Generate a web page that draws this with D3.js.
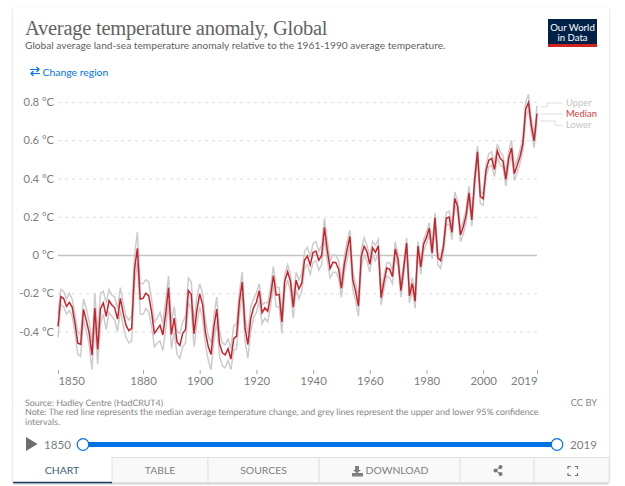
<!DOCTYPE html>
<html>
<head>
<meta charset="utf-8">
<script src="https://cdnjs.cloudflare.com/ajax/libs/d3/7.8.5/d3.min.js"></script>
<style>
body { margin: 0; background: #fff; }
svg { display: block; }
text { font-family: Lato, sans-serif; }
</style>
</head>
<body>
<div id="viz"></div>
<script>
var firstYear = 1850;
var xTicks = [1850, 1880, 1900, 1920, 1940, 1960, 1980, 2000, 2019];
var yTicks = [-0.4, -0.2, 0, 0.2, 0.4, 0.6, 0.8];

var median = [
  -.373,-.218,-.228,-.269,-.248,-.272,-.358,-.461,-.467,-.284,
  -.343,-.407,-.524,-.278,-.494,-.279,-.251,-.321,-.238,-.262,
  -.276,-.335,-.227,-.304,-.368,-.395,-.384,-.075,.035,-.230,
  -.227,-.200,-.213,-.296,-.409,-.389,-.367,-.418,-.307,-.171,
  -.416,-.330,-.455,-.473,-.410,-.390,-.186,-.206,-.412,-.289,
  -.203,-.259,-.402,-.479,-.520,-.377,-.283,-.465,-.511,-.522,
  -.490,-.544,-.437,-.424,-.244,-.141,-.383,-.468,-.333,-.275,
  -.247,-.187,-.302,-.276,-.294,-.215,-.108,-.210,-.206,-.350,
  -.137,-.087,-.137,-.273,-.131,-.178,-.147,-.026,-.006,-.052,
  .014,.020,-.027,-.004,.144,.025,-.071,-.038,-.039,-.074,
  -.174,-.052,.028,.097,-.129,-.190,-.267,-.007,.046,.017,
  -.049,.038,.014,.048,-.223,-.140,-.068,-.074,-.113,.032,
  -.027,-.186,-.065,.062,-.214,-.149,-.241,.047,-.062,.057,
  .092,.140,.011,.194,-.014,-.030,.045,.192,.198,.118,
  .296,.254,.105,.148,.208,.325,.183,.390,.539,.306,
  .294,.441,.496,.505,.447,.545,.506,.491,.395,.506,
  .560,.425,.470,.514,.579,.763,.797,.677,.597,.74
];
var upper = [
  -.31,-.18,-.19,-.23,-.20,-.23,-.31,-.40,-.42,-.23,
  -.28,-.35,-.46,-.20,-.41,-.20,-.19,-.25,-.18,-.21,
  -.22,-.28,-.17,-.25,-.32,-.34,-.32,.00,.12,-.15,
  -.15,-.13,-.14,-.23,-.35,-.33,-.30,-.36,-.24,-.11,
  -.35,-.27,-.40,-.41,-.35,-.32,-.12,-.14,-.35,-.22,
  -.15,-.20,-.34,-.42,-.46,-.32,-.22,-.40,-.46,-.47,
  -.44,-.49,-.37,-.36,-.19,-.09,-.33,-.41,-.27,-.23,
  -.20,-.15,-.26,-.25,-.25,-.17,-.06,-.17,-.17,-.30,
  -.10,-.05,-.10,-.23,-.09,-.13,-.10,.02,.04,-.01,
  .06,.07,.02,.05,.19,.08,-.03,.00,.00,-.03,
  -.13,-.01,.07,.13,-.09,-.15,-.23,.03,.09,.05,
  -.01,.07,.05,.08,-.19,-.11,-.04,-.04,-.08,.07,
  .00,-.16,-.04,.09,-.19,-.12,-.21,.07,-.04,.08,
  .12,.17,.04,.22,.01,-.01,.07,.22,.23,.15,
  .33,.28,.13,.18,.24,.36,.21,.42,.57,.33,
  .32,.47,.53,.54,.48,.58,.54,.52,.43,.54,
  .60,.46,.50,.55,.61,.80,.84,.71,.63,.78
];
var lower = [
  -.43,-.26,-.27,-.31,-.29,-.32,-.41,-.52,-.53,-.34,
  -.40,-.47,-.60,-.35,-.57,-.36,-.31,-.39,-.30,-.32,
  -.34,-.40,-.29,-.37,-.43,-.46,-.45,-.15,-.04,-.31,
  -.31,-.28,-.30,-.37,-.48,-.46,-.45,-.50,-.39,-.24,
  -.49,-.40,-.52,-.54,-.48,-.46,-.25,-.28,-.48,-.36,
  -.27,-.33,-.47,-.55,-.60,-.45,-.35,-.53,-.58,-.59,
  -.55,-.60,-.50,-.49,-.31,-.20,-.45,-.54,-.40,-.33,
  -.30,-.24,-.36,-.33,-.35,-.27,-.16,-.27,-.27,-.41,
  -.19,-.13,-.19,-.33,-.18,-.23,-.19,-.07,-.05,-.10,
  -.04,-.03,-.08,-.05,.09,-.03,-.12,-.09,-.09,-.12,
  -.22,-.10,-.02,.05,-.18,-.24,-.32,-.06,.00,-.03,
  -.09,.00,-.03,.01,-.26,-.18,-.11,-.12,-.15,-.01,
  -.06,-.22,-.10,.03,-.25,-.18,-.28,.01,-.10,.02,
  .06,.11,-.02,.16,-.05,-.07,.01,.16,.16,.08,
  .26,.22,.07,.11,.17,.29,.15,.35,.50,.27,
  .26,.41,.46,.47,.41,.51,.47,.46,.36,.47,
  .52,.39,.43,.48,.54,.72,.76,.64,.56,.70
];
var tabs = ["CHART", "TABLE", "SOURCES", "DOWNLOAD", "", ""];
var tabEdges = [13, 112, 208, 319, 460, 534, 609];

var grey = "#7c7c7c";
var blue = "#0073e6";

var svg = d3.select("#viz").append("svg")
    .attr("width", 625)
    .attr("height", 486);

var defs = svg.append("defs");
var shadow = defs.append("filter").attr("id", "shadow")
    .attr("x", "-5%").attr("y", "-5%").attr("width", "110%").attr("height", "110%");
shadow.append("feDropShadow")
    .attr("dx", 0).attr("dy", 1).attr("stdDeviation", 1.2)
    .attr("flood-color", "#000").attr("flood-opacity", 0.25);

// card
svg.append("rect")
    .attr("x", 13).attr("y", 7)
    .attr("width", 596).attr("height", 476)
    .attr("rx", 2)
    .style("fill", "#fff")
    .attr("filter", "url(#shadow)");

// header
svg.append("text")
    .attr("x", 25).attr("y", 34.5)
    .style("font-family", "'Liberation Serif', serif")
    .style("font-size", "20.5px")
    .style("letter-spacing", "-0.26px")
    .style("fill", "#636363")
    .text("Average temperature anomaly, Global");
svg.append("text")
    .attr("x", 25).attr("y", 49)
    .style("font-size", "10.2px")
    .style("fill", "#5f5f5f")
    .text("Global average land-sea temperature anomaly relative to the 1961-1990 average temperature.");

// logo
svg.append("rect").attr("x", 548).attr("y", 19).attr("width", 49).attr("height", 28).style("fill", "#002147");
svg.append("rect").attr("x", 548).attr("y", 44).attr("width", 49).attr("height", 3).style("fill", "#ce261e");
svg.selectAll(".logo")
    .data(["Our World", "in Data"])
    .enter().append("text")
    .attr("class", "logo")
    .attr("x", 572.5)
    .attr("y", function(d, i) { return 30.5 + i * 10.8; })
    .attr("text-anchor", "middle")
    .style("font-size", "9.6px")
    .style("fill", "#fff")
    .text(function(d) { return d; });

// change region
var arrows = svg.append("g").attr("transform", "translate(30,67)")
    .style("fill", "none").style("stroke", blue).style("stroke-width", 1.2);
arrows.append("path").attr("d", "M0,2.5H9M6.5,0L9,2.5L6.5,5");
arrows.append("path").attr("d", "M10,6.5H1M3.5,4L1,6.5L3.5,9");
svg.append("text")
    .attr("x", 42.5).attr("y", 75.5)
    .style("font-size", "10.4px")
    .style("fill", blue)
    .text("Change region");

// chart
var x = d3.scaleLinear().domain([1850, 2019]).range([58, 537]);
var y = d3.scaleLinear().domain([-0.4, 0.8]).range([331.5, 102]);

var yAxis = svg.append("g")
    .attr("transform", "translate(58,0)")
    .call(d3.axisLeft(y).tickValues(yTicks).tickSize(0).tickPadding(4)
        .tickFormat(function(d) { return d3.format(".1~f")(d).replace("\u2212", "-") + " \u00B0C"; }));
yAxis.select(".domain").remove();
yAxis.selectAll("text")
    .style("font-family", "Lato, sans-serif")
    .style("font-size", "11.2px")
    .style("fill", grey);
yAxis.selectAll("line")
    .attr("x2", 479)
    .style("stroke", function(d) { return d === 0 ? "#c4c4c4" : "#dddddd"; })
    .style("stroke-width", function(d) { return d === 0 ? 1.5 : 1; })
    .style("stroke-dasharray", function(d) { return d === 0 ? null : "3,4"; });

var xAxis = svg.append("g")
    .attr("transform", "translate(0,370)")
    .call(d3.axisBottom(x).tickValues(xTicks).tickSize(4).tickPadding(3).tickFormat(d3.format("d")));
xAxis.select(".domain").remove();
xAxis.selectAll("line").style("stroke", "#aaa");
xAxis.selectAll("text")
    .style("font-family", "Lato, sans-serif")
    .style("font-size", "11.4px")
    .style("fill", grey)
    .attr("text-anchor", function(d) { return d === 1850 ? "start" : d === 2019 ? "end" : "middle"; });

var line = d3.line()
    .x(function(d, i) { return x(firstYear + i); })
    .y(function(d) { return y(d); });

svg.selectAll(".band")
    .data([upper, lower])
    .enter().append("path")
    .attr("class", "band")
    .attr("d", line)
    .style("fill", "none")
    .style("stroke", "#cccccc")
    .style("stroke-width", 1.5);
svg.append("path")
    .attr("d", line(median))
    .style("fill", "none")
    .style("stroke", "#c8232c")
    .style("stroke-width", 1.5);

// line labels
var legendNames = ["Upper", "Median", "Lower"];
var legendColors = ["#c4c4c4", "#d73c42", "#c4c4c4"];
var legendLeader = [
    "M540.5,106.7H547V103H562.5",
    "M540.5,114H562.5",
    "M540.5,121H555V125.5H562.5"
];
svg.selectAll(".leader")
    .data(legendLeader)
    .enter().append("path")
    .attr("class", "leader")
    .attr("d", function(d) { return d; })
    .style("fill", "none")
    .style("stroke", "#dddddd");
svg.selectAll(".legend")
    .data(legendNames)
    .enter().append("text")
    .attr("class", "legend")
    .attr("x", 566)
    .attr("y", function(d, i) { return 106 + i * 11; })
    .style("font-size", "9.4px")
    .style("fill", function(d, i) { return legendColors[i]; })
    .text(function(d) { return d; });

// footer
var footerLines = [
    "Source: Hadley Centre (HadCRUT4)",
    "Note: The red line represents the median average temperature change, and grey lines represent the upper and lower 95% confidence",
    "intervals."
];
svg.selectAll(".foot")
    .data(footerLines)
    .enter().append("text")
    .attr("class", "foot")
    .attr("x", 25)
    .attr("y", function(d, i) { return 406 + i * 9.3; })
    .style("font-size", "8.9px")
    .style("text-rendering", "geometricPrecision")
    .style("fill", "#858585")
    .text(function(d) { return d; });
svg.append("text")
    .attr("x", 597).attr("y", 406)
    .attr("text-anchor", "end")
    .style("font-size", "9.3px")
    .style("fill", "#858585")
    .text("CC BY");

// timeline
svg.append("path").attr("d", "M26,437L37.5,444L26,451Z").style("fill", "#6e6e6e");
svg.append("text").attr("x", 44).attr("y", 449).style("font-size", "11.6px").style("fill", grey).text("1850");
svg.append("text").attr("x", 570).attr("y", 449).style("font-size", "11.6px").style("fill", grey).text("2019");
svg.append("line")
    .attr("x1", 83).attr("x2", 557).attr("y1", 444.5).attr("y2", 444.5)
    .style("stroke", blue).style("stroke-width", 5);
svg.selectAll(".handle")
    .data([83, 557])
    .enter().append("circle")
    .attr("class", "handle")
    .attr("cx", function(d) { return d; })
    .attr("cy", 444.5)
    .attr("r", 5.8)
    .style("fill", "#fff")
    .style("stroke", blue)
    .style("stroke-width", 1.2);

// tabs
var tabG = svg.selectAll(".tab")
    .data(tabs)
    .enter().append("g")
    .attr("class", "tab");
tabG.append("rect")
    .attr("x", function(d, i) { return tabEdges[i]; })
    .attr("y", 457.5)
    .attr("width", function(d, i) { return tabEdges[i + 1] - tabEdges[i]; })
    .attr("height", 25)
    .style("fill", function(d, i) { return i === 0 ? "#fff" : "#f9f9f9"; })
    .style("stroke", function(d, i) { return i === 0 ? "none" : "#e2e2e2"; });
tabG.append("text")
    .attr("x", function(d, i) { return i === 3 ? 397 : (tabEdges[i] + tabEdges[i + 1]) / 2 - (i === 0 ? 0.5 : 0); })
    .attr("y", 474)
    .attr("text-anchor", "middle")
    .style("font-size", "10.4px")
    .style("fill", function(d, i) { return i === 0 ? "#3a5a78" : "#808080"; })
    .text(function(d) { return d; });
svg.append("line")
    .attr("x1", 13).attr("x2", 112).attr("y1", 482.5).attr("y2", 482.5)
    .style("stroke", "#1d3d63").style("stroke-width", 1.6);

// tab icons
svg.append("path")
    .attr("d", "M355,466H359V470H361L357,473.5L353,470H355ZM352,473H363V476.5H352Z")
    .style("fill", "#808080");
var share = svg.append("g").style("fill", "#777");
share.selectAll("circle")
    .data([[495.5, 470.5], [500.5, 467], [500.5, 474]])
    .enter().append("circle")
    .attr("cx", function(d) { return d[0]; })
    .attr("cy", function(d) { return d[1]; })
    .attr("r", 2);
share.append("path").attr("d", "M500.5,467L495.5,470.5L500.5,474").style("fill", "none").style("stroke", "#777");
svg.append("path")
    .attr("d", "M568,469V466.5H571M575,466.5H577.5V469M577.5,473V475.5H575M571,475.5H568V473")
    .style("fill", "none")
    .style("stroke", "#777")
    .style("stroke-width", 1.2);
</script>
</body>
</html>
